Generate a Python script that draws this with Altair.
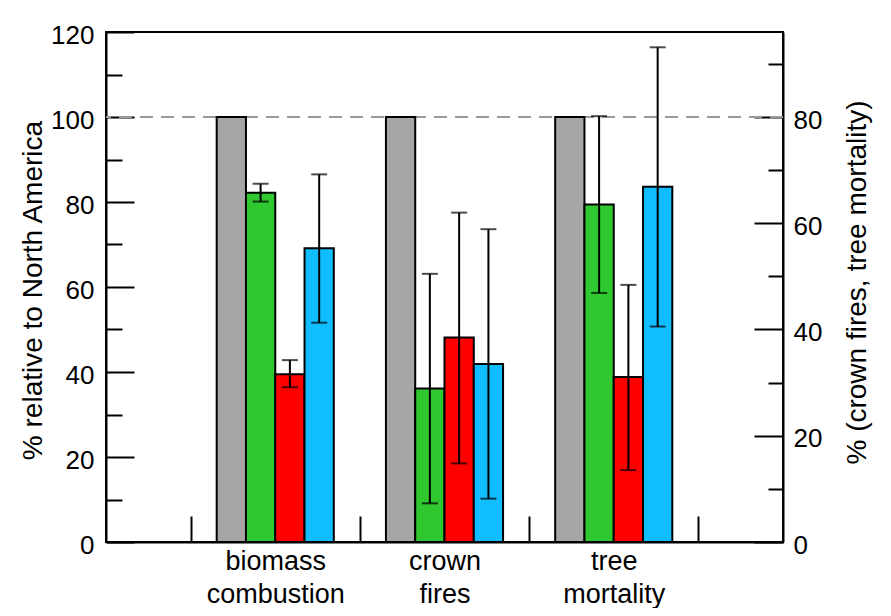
import altair as alt
import pandas as pd

# ---- data ----
categories = [["biomass", "combustion"], ["crown", "fires"], ["tree", "mortality"]]
series = ["gray", "green", "red", "blue"]
colors = ["#A6A6A6", "#30C830", "#FF0000", "#10BEFF"]

gray_vals = [100, 100, 100]
green_vals = [82.2, 36.1, 79.4]
red_vals = [39.5, 48.1, 38.8]
blue_vals = [69.1, 41.9, 83.6]

green_lo = [80.1, 9.1, 58.6]
green_hi = [84.3, 63.1, 100.2]
red_lo = [36.4, 18.5, 16.9]
red_hi = [42.8, 77.5, 60.5]
blue_lo = [51.6, 10.2, 50.7]
blue_hi = [86.5, 73.6, 116.4]

ref_line = [100]
left_ticks = list(range(0, 121, 10))
right_ticks = list(range(0, 91, 10))
x_ticks = [0.5, 1, 1.5, 2, 2.5, 3, 3.5]

FONT = "Liberation Sans"
FS = 26
BAR_W = 0.173

vals = {"gray": gray_vals, "green": green_vals, "red": red_vals, "blue": blue_vals}
los = {"gray": [None] * 3, "green": green_lo, "red": red_lo, "blue": blue_lo}
his = {"gray": [None] * 3, "green": green_hi, "red": red_hi, "blue": blue_hi}

rows = []
for i in range(len(categories)):
    for k, s in enumerate(series):
        xc = i + 1 + (k - 1.5) * BAR_W
        rows.append({
            "cat": i + 1, "series": s, "value": vals[s][i],
            "lo": los[s][i], "hi": his[s][i],
            "xc": xc, "x0": xc - BAR_W / 2, "x1": xc + BAR_W / 2,
        })
df = pd.DataFrame(rows)
err_df = df.dropna(subset=["lo"])

label_expr = ""
for i, c in enumerate(categories):
    label_expr += "datum.value === %d ? [%s] : " % (i + 1, ", ".join("'%s'" % t for t in c))
label_expr += "''"

x_scale = alt.Scale(domain=[0, 4], nice=False, zero=False)
y_scale = alt.Scale(domain=[0, 120], nice=False)
r_scale = alt.Scale(domain=[0, 96], nice=False)

common = dict(
    grid=False, domainColor="black", domainWidth=2, tickColor="black", tickWidth=2,
    labelFont=FONT, labelColor="black", labelOverlap=False,
    titleFont=FONT, titleFontSize=28, titleColor="black", titleFontWeight="normal",
)

x_axis = alt.Axis(
    values=x_ticks, title=None,
    tickSize=alt.ExprRef(expr="datum.value % 1 === 0 ? 0 : -26"),
    labelExpr=label_expr, labelBaseline="top", labelLineHeight=33, labelFontSize=27,
    labelPadding=6, labelFlush=False, labelBound=False, **common,
)
y_axis = alt.Axis(
    orient="left", values=left_ticks,
    title="% relative to North America", titleAngle=270,
    titleX=-65, titleY=258, titleAlign="center", titleBaseline="alphabetic",
    tickSize=alt.ExprRef(expr="datum.value % 20 === 0 ? -28 : -16"),
    labelExpr="datum.value % 20 === 0 ? datum.label : ''", labelFontSize=FS,
    labelPadding=40, labelOffset=3, **common,
)
r_axis = alt.Axis(
    orient="right", values=right_ticks,
    title="% (crown fires, tree mortality)", titleAngle=270,
    titleX=82, titleY=250, titleAlign="center", titleBaseline="alphabetic",
    tickSize=alt.ExprRef(expr="datum.value % 20 === 0 ? -29 : -15"),
    labelExpr="datum.value % 20 === 0 ? datum.label : ''", labelFontSize=FS,
    labelPadding=39, labelOffset=3, **common,
)

base = alt.Chart(df)

dash = alt.Chart(pd.DataFrame({"ref": ref_line})).mark_rule(
    color="#999999", strokeWidth=2, strokeDash=[13, 8]
).encode(y=alt.Y("ref:Q", scale=y_scale, axis=y_axis))

bars = base.mark_bar(stroke="black", strokeWidth=2).encode(
    x=alt.X("x0:Q", scale=x_scale, axis=x_axis),
    x2="x1:Q",
    y=alt.Y("value:Q", scale=y_scale, axis=y_axis),
    y2=alt.datum(0),
    color=alt.Color("series:N", scale=alt.Scale(domain=series, range=colors), legend=None),
)

err = alt.Chart(err_df).mark_rule(color="black", strokeWidth=2).encode(
    x=alt.X("xc:Q", scale=x_scale, axis=x_axis),
    y=alt.Y("lo:Q", scale=y_scale, axis=y_axis),
    y2="hi:Q",
)
cap_lo = alt.Chart(err_df).mark_tick(color="black", orient="horizontal", size=16, thickness=2).encode(
    x=alt.X("xc:Q", scale=x_scale, axis=x_axis),
    y=alt.Y("lo:Q", scale=y_scale, axis=y_axis),
)
cap_hi = alt.Chart(err_df).mark_tick(color="black", orient="horizontal", size=16, thickness=2).encode(
    x=alt.X("xc:Q", scale=x_scale, axis=x_axis),
    y=alt.Y("hi:Q", scale=y_scale, axis=y_axis),
)

right = alt.Chart(pd.DataFrame({"r": [0]})).mark_point(opacity=0).encode(
    y=alt.Y("r:Q", scale=r_scale, axis=r_axis)
)

left_group = alt.layer(dash, bars, err, cap_lo, cap_hi)

chart = alt.layer(left_group, right).resolve_scale(y="independent").properties(
    width=677, height=510,
    autosize=alt.AutoSizeParams(type="none"),
    padding={"left": 98, "top": 24, "right": 92, "bottom": 66},
    background="white",
).configure_view(stroke="black", strokeWidth=2)

chart.save("out.html", embed_options={"renderer": "svg", "actions": False})
